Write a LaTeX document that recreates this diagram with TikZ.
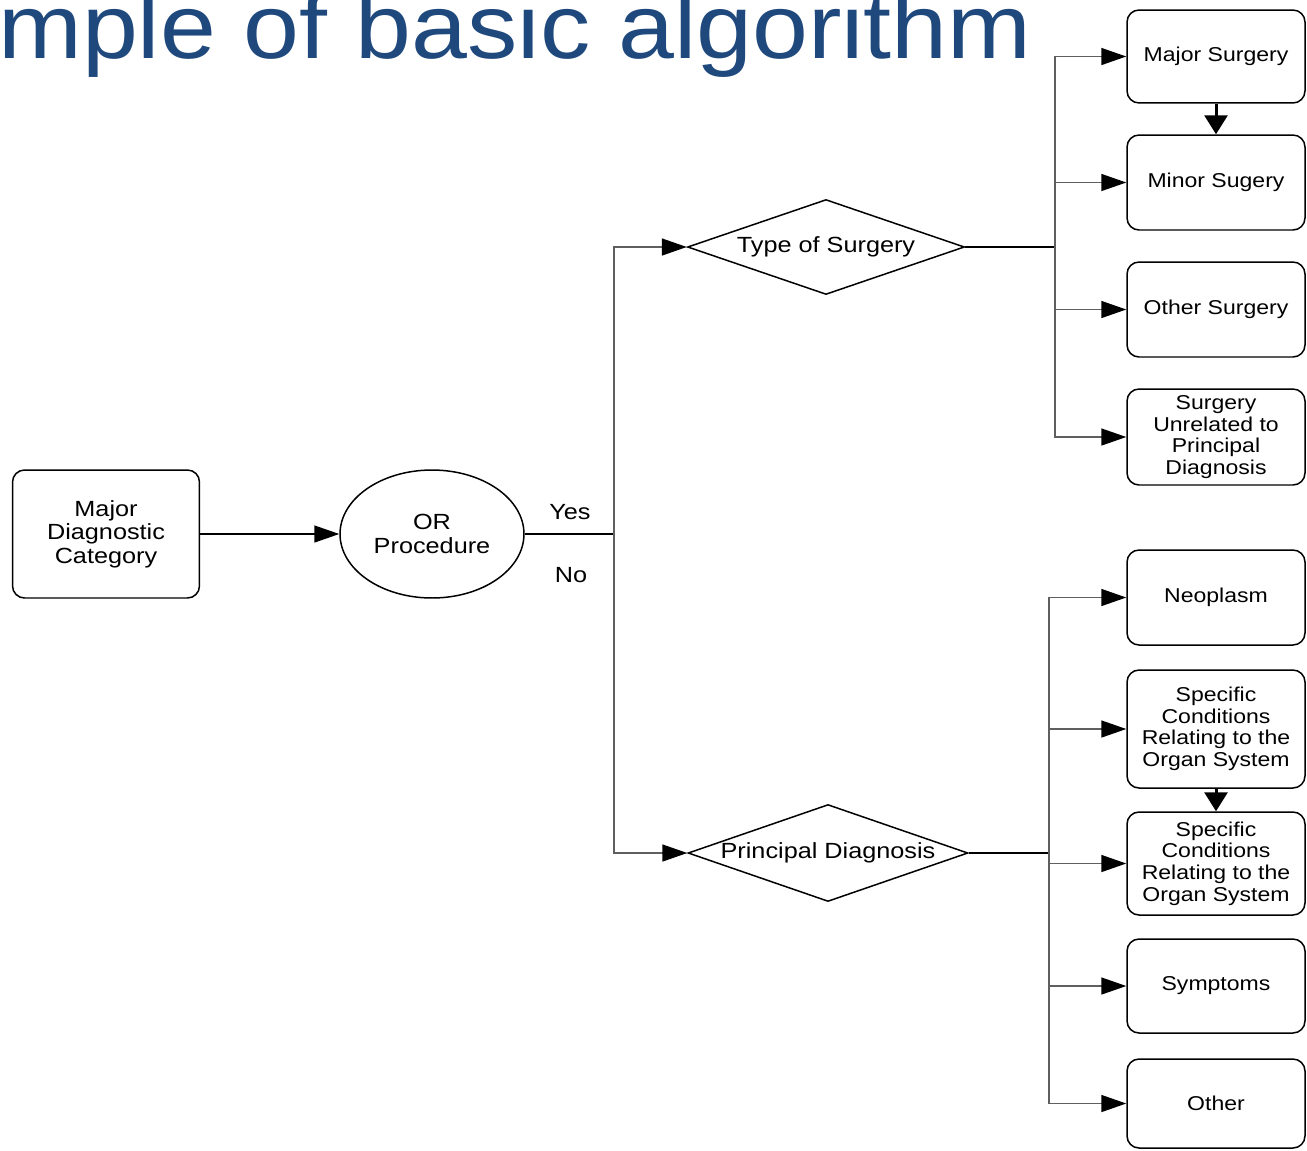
\documentclass[tikz,border=0pt]{standalone}
\usepackage{fontspec}
\setmainfont[FakeStretch=1.15]{Liberation Sans}
\newfontfamily\titlefont[FakeStretch=1.1]{Liberation Sans}
\usepackage{tikz}
\usetikzlibrary{shapes.geometric,arrows.meta}
\definecolor{titleblue}{RGB}{31,73,125}
\definecolor{edgegray}{RGB}{95,95,95}
\tikzset{
		edgeStyle/.style = 	{line width = 0.85pt, draw=edgegray},
		arrowStyle/.style = 	{edgeStyle, -{Triangle[length=0.5cm,width=0.34cm,color=black]}},
		thickArrow/.style = 	{line width = 1.7pt, -{Triangle[length=0.38cm,width=0.46cm]}},
		boxStyle/.style = 	{draw, line width = 0.85pt, rounded corners=0.24cm, align=center, inner sep=0pt, minimum width=3.56cm},
		decision/.style = 	{draw, diamond, line width = 0.85pt, inner sep=0pt},
		leftText/.style = 	{font=\fontsize{12.5}{13.4}\selectfont},
		rightText/.style = 	{font=\fontsize{11.4}{12.3}\selectfont}
}

\begin{document}
\begin{tikzpicture}[x=0.02cm, y=-0.02cm]
  \useasboundingbox (0,0) rectangle (1307,1150);
  \clip (0,0) rectangle (1307,1150);

  \node[anchor=base west, inner sep=0pt, text=titleblue, font=\titlefont\fontsize{52}{60}\selectfont] (title) at (-2,58) {mple of basic algorithm};

  \node[boxStyle, leftText, minimum width=3.74cm, minimum height=2.56cm] (mdc) at (106,534) {Major\\Diagnostic\\Category};
  \node[draw, ellipse, line width = 0.85pt, leftText, align=center, inner sep=0pt, minimum width=3.68cm, minimum height=2.56cm] (orp) at (432,534) {OR\\Procedure};
  \node[decision, leftText, minimum width=5.54cm, minimum height=1.9cm] (tos) at (826,247) {\makebox[0pt]{Type of Surgery}};
  \node[decision, leftText, minimum width=5.6cm, minimum height=1.94cm] (pdx) at (828,853) {\makebox[0pt]{Principal Diagnosis}};
  \node[leftText] (yesLbl) at (570,512) {Yes};
  \node[leftText] (noLbl) at (571,575) {No};

  \foreach \name/\yc/\hgt/\txt in {majS/56.5/1.86/{Major Surgery}, minS/182.5/1.9/{Minor Sugery},
      othS/309.5/1.9/{Other Surgery}, unrS/437/1.92/{Surgery\\Unrelated to\\Principal\\Diagnosis},
      neo/597.5/1.9/{Neoplasm}, spcA/729/2.36/{Specific\\Conditions\\Relating to the\\Organ System},
      spcB/863.5/2.06/{Specific\\Conditions\\Relating to the\\Organ System}, sym/986/1.88/{Symptoms},
      oth/1103.5/1.78/{Other}}
    \node[boxStyle, rightText, minimum height=\hgt cm] (\name) at (1216,\yc) {\txt};

  \coordinate (split) at (614,534);
  \coordinate (jTop) at (1055,247);
  \coordinate (jBot) at (1049,853);

  \draw[arrowStyle, draw=black] (mdc) -- (orp);
  \draw[edgeStyle, draw=black] (orp) -- (split);
  \draw[arrowStyle] (split) |- (tos);
  \draw[arrowStyle] (split) |- (pdx);
  \draw[edgeStyle, draw=black] (tos) -- (jTop);
  \draw[edgeStyle, draw=black] (pdx) -- (jBot);

  \foreach \name in {majS,minS,othS,unrS}
    \draw[arrowStyle] (jTop) |- (\name.west);
  \foreach \name in {neo,spcA,spcB,sym,oth}
    \draw[arrowStyle] (jBot) |- (\name.west);

  \draw[thickArrow] (majS) -- (minS);
  \draw[thickArrow] (spcA) -- (spcB);
\end{tikzpicture}
\end{document}
